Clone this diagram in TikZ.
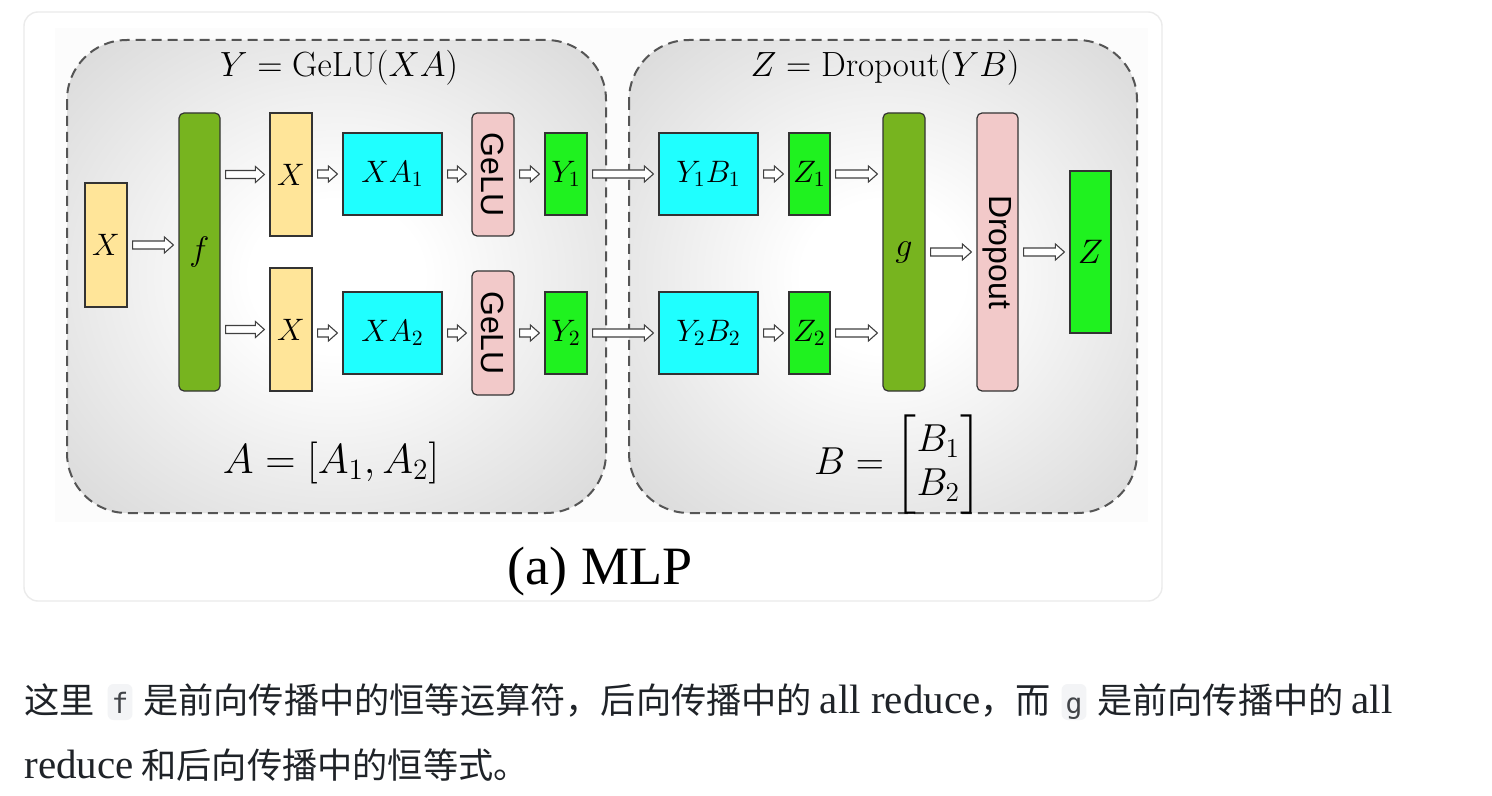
\RequirePackage{fix-cm}
\documentclass[tikz,border=0pt]{standalone}
\usepackage{amsmath}
\usepackage[no-math]{fontspec}
\newfontfamily\cjk{Noto Sans CJK SC}
\newfontfamily\latf{Liberation Serif}
\newfontfamily\sansf{Liberation Sans}
\newfontfamily\monof{DejaVu Sans Mono}
\usetikzlibrary{calc}
\definecolor{yel}{HTML}{FFE599}
\definecolor{fgreen}{HTML}{77B41F}
\definecolor{cyn}{HTML}{1FFFFF}
\definecolor{brg}{HTML}{1FF21F}
\definecolor{pnk}{HTML}{F2C9C9}
\definecolor{txtc}{HTML}{1F2328}
\definecolor{codebg}{HTML}{F3F4F6}
\definecolor{cardline}{HTML}{EBEBEB}
\definecolor{dashc}{HTML}{555555}
\pgfdeclareradialshading{panelshade}{\pgfpoint{0bp}{0bp}}{color(0bp)=(white); color(8bp)=(white); color(50bp)=(black!23); color(72bp)=(black!32)}
\tikzset{
  bx/.style={draw=black!80, line width=0.6pt, inner sep=0pt, text=black, font=\fontsize{15.5pt}{18pt}\selectfont},
  yb/.style={bx, fill=yel},
  gb/.style={bx, fill=fgreen, rounded corners=2.5pt},
  cb/.style={bx, fill=cyn},
  bg/.style={bx, fill=brg},
  pb/.style={bx, fill=pnk, rounded corners=2.5pt, font=\sansf\fontsize{16pt}{18pt}\selectfont},
  panel/.style={draw=dashc, line width=1pt, dash pattern=on 5pt off 3pt, rounded corners=30pt},
  fat/.style={fill=white, draw=black!75, line width=0.55pt, line join=miter,
    to path={let \p1=(\tikztostart), \p2=(\tikztotarget) in
      (\x1+2.5pt,\y1+2pt) -- (\x2-7pt,\y1+2pt) -- (\x2-7pt,\y1+4pt) -- (\x2-2.5pt,\y1)
      -- (\x2-7pt,\y1-4pt) -- (\x2-7pt,\y1-2pt) -- (\x1+2.5pt,\y1-2pt) -- cycle}},
  ttl/.style={text=black, inner sep=0pt, font=\fontsize{17.5pt}{20pt}\selectfont},
  eqn/.style={text=black, inner sep=0pt, font=\fontsize{21pt}{24pt}\selectfont},
  para/.style={inner sep=0pt, text=txtc, font=\cjk\fontsize{17.6pt}{20pt}\selectfont},
  code/.style={fill=codebg, rounded corners=3pt, inner xsep=2pt, inner ysep=1.5pt, text height=13pt, text depth=2pt, text=txtc!85, font=\monof\fontsize{14pt}{16pt}\selectfont},
}
\newcommand{\lt}[1]{{\latf\fontsize{20.5pt}{20.5pt}\selectfont #1}}
\begin{document}
\begin{tikzpicture}[x=0.5pt,y=-0.5pt]
\useasboundingbox (0,0) rectangle (1492,796);
\fill[white] (0,0) rectangle (1492,796);
% card
\draw[cardline, line width=0.7pt, fill=white, rounded corners=7pt] (24,12) rectangle (1162,601);
\fill[black!1] (55,28) rectangle (1148,522);
% panels
\path[shading=panelshade, rounded corners=30pt] (67,40) rectangle (606,513);
\path[shading=panelshade, rounded corners=30pt] (629,40) rectangle (1137,513);
\draw[panel] (67,40) rectangle (606,513);
\draw[panel] (629,40) rectangle (1137,513);
% titles
\node[ttl] (t1) at (339,68) {$Y = \mathrm{GeLU}(XA)$};
\node[ttl] (t2) at (885,68) {$Z = \mathrm{Dropout}(YB)$};
\node[eqn] (eA) at (331,463) {$A = [A_1, A_2]$};
\node[eqn, font=\fontsize{19.5pt}{22pt}\selectfont] (eB) at (898,465) {$B = \begin{bmatrix} B_1 \\ B_2 \end{bmatrix}$};
% boxes
\node[yb, minimum width=21pt, minimum height=62pt] (X0) at (106,245) {$X$};
\node[gb, minimum width=20.5pt, minimum height=139pt, font=\fontsize{17pt}{18pt}\selectfont] (f) at (199.5,252) {$f$};
\node[yb, minimum width=21pt, minimum height=61.5pt] (X1) at (291,174.5) {$X$};
\node[yb, minimum width=21pt, minimum height=61.5pt] (X2) at (291,329.5) {$X$};
\node[cb, minimum width=49.5pt, minimum height=41pt] (XA1) at (392.5,174) {$XA_1$};
\node[cb, minimum width=49.5pt, minimum height=41pt] (XA2) at (392.5,333) {$XA_2$};
\node[pb, minimum width=21pt, minimum height=61.5pt] (G1) at (493,174.5) {\rotatebox{-90}{GeLU}};
\node[pb, minimum width=21pt, minimum height=62pt] (G2) at (493,333) {\rotatebox{-90}{GeLU}};
\node[bg, minimum width=21pt, minimum height=41pt] (Y1) at (566,174) {$Y_1$};
\node[bg, minimum width=21pt, minimum height=41pt] (Y2) at (566,333) {$Y_2$};
\node[cb, minimum width=49.5pt, minimum height=41pt] (YB1) at (708.5,174) {$Y_1B_1$};
\node[cb, minimum width=49.5pt, minimum height=41pt] (YB2) at (708.5,333) {$Y_2B_2$};
\node[bg, minimum width=20.5pt, minimum height=41pt] (Z1) at (809.5,174) {$Z_1$};
\node[bg, minimum width=20.5pt, minimum height=41pt] (Z2) at (809.5,333) {$Z_2$};
\node[gb, minimum width=21pt, minimum height=139pt, font=\fontsize{17pt}{18pt}\selectfont] (g) at (904,252) {$g$};
\node[pb, minimum width=20.5pt, minimum height=139pt] (D) at (997.5,252) {\rotatebox{-90}{Dropout}};
\node[bg, minimum width=20.5pt, minimum height=81pt, font=\fontsize{17pt}{18pt}\selectfont] (Z) at (1090.5,252) {$Z$};
% arrows
\draw[fat] (X0.east) to (f.west |- X0.east);
\draw[fat] (f.east |- X1.west) to (X1.west);
\draw[fat] (f.east |- X2.west) to (X2.west);
\draw[fat] (X1.east |- XA1.east) to (XA1.west);
\draw[fat] (X2.east |- XA2.east) to (XA2.west);
\draw[fat] (XA1.east) to (G1.west |- XA1.east);
\draw[fat] (XA2.east) to (G2.west |- XA2.east);
\draw[fat] (G1.east |- Y1.west) to (Y1.west);
\draw[fat] (G2.east |- Y2.west) to (Y2.west);
\draw[fat] (Y1.east) to (YB1.west);
\draw[fat] (Y2.east) to (YB2.west);
\draw[fat] (YB1.east) to (Z1.west);
\draw[fat] (YB2.east) to (Z2.west);
\draw[fat] (Z1.east) to (g.west |- Z1.east);
\draw[fat] (Z2.east) to (g.west |- Z2.east);
\draw[fat] (g.east) to (D.west);
\draw[fat] (D.east) to (Z.west);
% caption
\node[inner sep=0pt, text=black, font=\latf\fontsize{27pt}{30pt}\selectfont] (cap) at (600,572) {(a) MLP};
% paragraph
\node[para, anchor=base west] (p1) at (24,713) {这里};
\node[code, anchor=base west] (c1) at ([xshift=6pt]p1.base east) {f};
\node[para, anchor=base west] (p2) at ([xshift=5pt]c1.base east) {是前向传播中的恒等运算符，后向传播中的 \lt{all reduce}，而};
\node[code, anchor=base west] (c2) at ([xshift=5pt]p2.base east) {g};
\node[para, anchor=base west] (p3) at ([xshift=5pt]c2.base east) {是前向传播中的 \lt{all}};
\node[para, anchor=base west] (p4) at (24,778) {\lt{reduce} 和后向传播中的恒等式。};
\end{tikzpicture}
\end{document}
